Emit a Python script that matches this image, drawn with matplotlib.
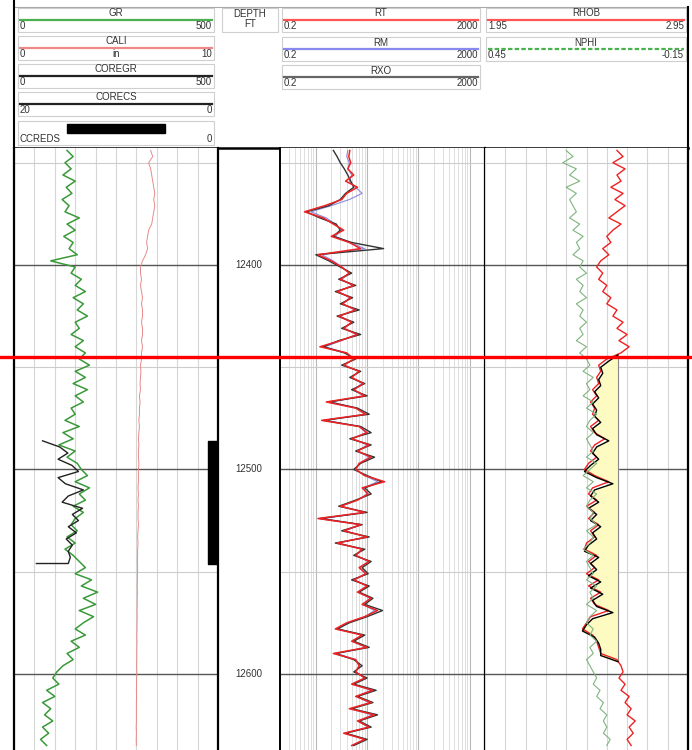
import numpy as np
import matplotlib.pyplot as plt
import matplotlib.transforms as mtransforms
from matplotlib.patches import Rectangle
from matplotlib.ticker import MultipleLocator, LogLocator

plt.rcParams['font.family'] = ['Liberation Sans', 'DejaVu Sans']

W, H = 692, 750

# log curves sampled every 3 ft from 12344 ft
top_depth = 12344
step = 3

gr = [130, 145, 125, 140, 120, 150, 128, 142, 118, 135,
      125, 160, 130, 150, 122, 145, 135, 155, 90,
      150, 140, 165, 150, 175, 145, 170, 155, 180, 150, 160, 140, 170, 150, 175,
      160, 185, 150, 175, 145, 180, 150, 170, 140,
      150, 125, 160, 120, 145, 110, 150, 130, 155,
      165, 180, 150, 185, 160, 175, 145, 170, 150,
      140, 155, 130, 150, 125, 145, 160, 175,
      150, 190, 165, 205, 170, 200, 160, 195,
      170, 150, 175, 140, 160, 130, 145, 120,
      105, 95, 110, 80, 100, 70, 90, 75, 95, 70, 85, 65, 80]

cali = [6.7, 6.8, 6.6, 6.7, 6.75, 6.8, 6.85, 6.9, 6.85, 6.9,
        6.85, 6.8, 6.75, 6.6, 6.55, 6.5, 6.55, 6.45, 6.3,
        6.2, 6.2, 6.25, 6.2, 6.25, 6.3, 6.25, 6.3, 6.3, 6.25, 6.3, 6.3, 6.25, 6.3, 6.25,
        6.25, 6.2, 6.22, 6.2, 6.18, 6.2, 6.15, 6.18, 6.15, 6.15,
        6.12, 6.15, 6.12, 6.1, 6.12, 6.1, 6.1, 6.12, 6.1, 6.1,
        6.1, 6.08, 6.1, 6.08, 6.1, 6.08, 6.08, 6.1, 6.08, 6.06,
        6.08, 6.06, 6.06, 6.05, 6.06, 6.05, 6.05, 6.04, 6.05, 6.04,
        6.04, 6.03, 6.04, 6.03, 6.03, 6.02, 6.03, 6.02, 6.02, 6.02,
        6.01, 6.02, 6.01, 6.01, 6.0, 6.01, 6.0, 6.0, 6.0, 6.0,
        5.99, 6.0, 5.99, 6.0]

rt = [4.6, 4.4, 4.8, 4.2, 5.5, 3.8, 6.5, 4.0, 3.2, 1.5,
      0.6, 1.4, 2.2, 3.5, 2.0, 4.5, 7.5, 1.1, 2.0, 3.2,
      4.5, 3.0, 5.5, 2.6, 4.8, 3.3, 6.0, 2.8, 5.0, 3.5,
      6.5, 3.0, 1.2, 4.0, 5.5, 3.5, 7.0, 5.0, 8.5, 5.5,
      9.0, 1.6, 6.0, 9.5, 1.3, 7.0, 10.0, 5.0, 11.0, 6.5,
      12.0, 7.0, 6.0, 9.0, 22.0, 8.0, 10.5, 6.5, 3.0, 9.0,
      1.1, 7.5, 3.5, 10.0, 2.6, 8.0, 6.0, 11.0, 7.0, 9.5,
      5.5, 10.0, 6.5, 12.0, 8.0, 16.0, 9.0, 4.0, 2.4, 8.0,
      5.0, 10.0, 2.2, 6.0, 7.0, 6.0, 9.0, 5.0, 13.0, 6.0,
      12.0, 4.5, 14.0, 6.5, 11.0, 3.5, 9.0, 5.0]

rm = [4.2, 4.0, 4.5, 4.3, 5.0, 4.5, 6.0, 8.0, 4.5, 2.0,
      0.8, 1.6, 2.4, 3.2, 2.4, 4.6, 9.0, 1.3, 2.2, 3.2,
      4.6, 3.2, 5.2, 2.8, 4.6, 3.4, 5.8, 3.0, 5.0, 3.6,
      6.2, 3.2, 1.5, 4.0, 5.6, 3.6, 6.8, 5.0, 8.0, 5.4,
      8.5, 2.0, 6.0, 9.0, 1.6, 7.0, 9.5, 5.2, 10.0, 6.5,
      11.0, 7.2, 6.0, 9.0, 16.0, 8.5, 10.0, 6.5, 3.2, 9.0,
      1.4, 7.5, 3.8, 9.5, 2.8, 8.0, 6.0, 10.5, 7.2, 9.5,
      5.8, 10.0, 6.8, 11.5, 8.2, 14.0, 9.0, 4.2, 2.8, 8.0,
      5.2, 9.5, 2.6, 6.0, 7.2, 6.0, 9.0, 5.2, 12.0, 6.2,
      11.0, 4.8, 12.5, 6.8, 10.5, 3.8, 9.0, 5.2]

rxo = [2.2, 2.6, 3.0, 3.6, 4.2, 4.8, 5.5, 3.8, 3.0, 1.8,
       0.65, 1.2, 2.5, 3.0, 2.2, 5.0, 21.0, 1.0, 1.8, 3.0,
       5.0, 2.8, 6.0, 2.4, 5.2, 3.0, 7.0, 2.6, 5.5, 3.2,
       7.5, 2.8, 1.4, 3.6, 6.0, 3.2, 7.5, 4.6, 9.0, 5.0,
       10.0, 1.8, 6.5, 11.0, 1.4, 7.5, 12.0, 4.6, 12.0, 6.0,
       14.0, 7.5, 5.5, 10.0, 19.0, 9.0, 12.0, 6.0, 2.8, 10.0,
       1.2, 8.0, 3.2, 11.0, 2.4, 9.0, 5.5, 12.0, 8.0, 10.5,
       5.0, 11.0, 7.0, 13.0, 9.0, 20.0, 10.0, 4.5, 2.6, 9.0,
       5.5, 11.0, 2.4, 5.5, 8.0, 5.5, 10.0, 5.5, 15.0, 6.5,
       13.0, 5.0, 16.0, 7.0, 12.0, 3.8, 10.0, 5.5]

rhob = [2.60, 2.63, 2.58, 2.64, 2.60, 2.62, 2.57, 2.63, 2.59, 2.64,
        2.60, 2.56, 2.62, 2.58, 2.55, 2.57, 2.53, 2.56, 2.52,
        2.50, 2.53, 2.51, 2.55, 2.53, 2.57, 2.55,
        2.60, 2.58, 2.63, 2.60, 2.65, 2.61, 2.66, 2.62,
        2.55, 2.51, 2.52, 2.50, 2.51, 2.48, 2.50, 2.47, 2.49, 2.48,
        2.51, 2.47, 2.49, 2.54, 2.49, 2.47, 2.50, 2.46, 2.44, 2.49,
        2.56, 2.48, 2.46, 2.50, 2.45, 2.49, 2.46, 2.51, 2.47, 2.49,
        2.45, 2.44, 2.50, 2.46,
        2.49, 2.45, 2.51, 2.46, 2.52, 2.47, 2.49, 2.56, 2.47, 2.45,
        2.43, 2.48, 2.50, 2.51, 2.52, 2.60, 2.62,
        2.63, 2.61, 2.64, 2.62, 2.66, 2.64, 2.67, 2.65, 2.69, 2.66, 2.68, 2.65, 2.67]

nphi = [0.21, 0.19, 0.22, 0.18, 0.20, 0.17, 0.21, 0.18, 0.20, 0.19,
        0.18, 0.20, 0.17, 0.19, 0.16, 0.18, 0.17, 0.19, 0.16,
        0.17, 0.15, 0.18, 0.16, 0.17, 0.15, 0.18, 0.16, 0.17, 0.15, 0.17, 0.16, 0.18, 0.15, 0.17,
        0.15, 0.14, 0.16, 0.13, 0.15, 0.14, 0.16, 0.13, 0.15, 0.12,
        0.14, 0.15, 0.13, 0.15, 0.14, 0.13, 0.15, 0.12, 0.14, 0.16,
        0.13, 0.15, 0.12, 0.14, 0.15, 0.13, 0.14, 0.12, 0.15, 0.13,
        0.14, 0.16, 0.13, 0.15,
        0.14, 0.13, 0.15, 0.12, 0.14, 0.13, 0.15, 0.12, 0.14, 0.15,
        0.13, 0.14, 0.12, 0.14, 0.13, 0.15, 0.14,
        0.13, 0.12, 0.13, 0.11, 0.12, 0.10, 0.11, 0.09, 0.10, 0.09, 0.10, 0.08, 0.09]

# core gamma ray, every 3 ft from 12486 ft, last value is the tail at the base
core_gr_top = 12486
core_gr = [70, 112, 132, 108, 142, 158, 108, 126, 170, 133, 118,
           168, 143, 158, 133, 153, 128, 143, 133, 138, 133, 55]

# core density, every 3 ft from 12444 ft
core_rhob_top = 12444
core_rhob = [2.605, 2.56, 2.52, 2.53, 2.51, 2.52, 2.49, 2.51, 2.48, 2.50, 2.49,
             2.52, 2.48, 2.50, 2.56, 2.50, 2.48, 2.51, 2.47, 2.44, 2.50,
             2.58, 2.49, 2.47, 2.51, 2.46, 2.50, 2.47, 2.52, 2.48, 2.50,
             2.46, 2.44, 2.51, 2.47, 2.50, 2.46, 2.52, 2.47, 2.53, 2.48,
             2.50, 2.58, 2.48, 2.45, 2.43, 2.49, 2.51, 2.52, 2.52, 2.605]
fill_limit = 2.605

core_top, core_base = 12486, 12546   # CCREDS interval
marker_depth = 12445
depth_ticks = [12400, 12500, 12600]
depth_top, depth_bottom = 12342.8, 12637.2

depth = top_depth + step * np.arange(len(gr))
core_gr_depth = core_gr_top + step * np.arange(len(core_gr) - 1)
core_gr_depth = np.append(core_gr_depth, core_gr_depth[-1])
core_rhob_depth = core_rhob_top + step * np.arange(len(core_rhob))


def px(x0, y0, x1, y1):
    return [x0 / W, 1 - y1 / H, (x1 - x0) / W, (y1 - y0) / H]


fig = plt.figure(figsize=(W / 100, H / 100), dpi=100)
fig.patch.set_facecolor('white')

# ---------- header ----------
hax = fig.add_axes([0, 0, 1, 1], zorder=0)
hax.set_xlim(0, W)
hax.set_ylim(H, 0)
hax.axis('off')
txt = dict(fontsize=7, color='#333333', va='center')


def header_box(x0, y0, x1, title, left, right, color, mid='', ls='-', h=24):
    hax.add_patch(Rectangle((x0, y0), x1 - x0, h, fill=False, ec='#cfcfcf', lw=0.8))
    hax.text((x0 + x1) / 2, y0 + 5.5, title, ha='center', **txt)
    hax.plot([x0 + 2, x1 - 2], [y0 + 11.5, y0 + 11.5], color=color, lw=1.6, ls=ls)
    hax.text(x0 + 2, y0 + 18, left, ha='left', **txt)
    hax.text(x1 - 2, y0 + 18, right, ha='right', **txt)
    if mid:
        hax.text((x0 + x1) / 2, y0 + 18, mid, ha='center', **txt)


header_box(18, 8, 214, 'GR', '0', '500', '#4caf50')
header_box(18, 36, 214, 'CALI', '0', '10', '#ee8888', mid='in')
header_box(18, 64, 214, 'COREGR', '0', '500', '#222222')
header_box(18, 92, 214, 'CORECS', '20', '0', '#222222')
hax.add_patch(Rectangle((18, 121), 196, 24, fill=False, ec='#cfcfcf', lw=0.8))
hax.add_patch(Rectangle((67, 124), 98, 9, color='black'))
hax.text(20, 139, 'CCREDS', ha='left', **txt)
hax.text(212, 139, '0', ha='right', **txt)

hax.add_patch(Rectangle((222, 8), 56, 24, fill=False, ec='#cfcfcf', lw=0.8))
hax.text(250, 14, 'DEPTH', ha='center', **txt)
hax.text(250, 24, 'FT', ha='center', **txt)

header_box(282, 8, 480, 'RT', '0.2', '2000', '#ff5555')
header_box(282, 37, 480, 'RM', '0.2', '2000', '#8888ee')
header_box(282, 65, 480, 'RXO', '0.2', '2000', '#666666')
header_box(486, 8, 686, 'RHOB', '1.95', '2.95', '#ff5555')
header_box(486, 37, 686, 'NPHI', '0.45', '-0.15', '#4caf50', ls=(0, (2, 1)))

hax.plot([14, 688], [7, 7], color='#aaaaaa', lw=0.8)
hax.plot([14, 14], [0, 148], color='black', lw=1.5)
hax.plot([688, 688], [7, 148], color='black', lw=1.5)
hax.plot([14, 688], [148, 148], color='black', lw=1.8)

# ---------- tracks ----------
def setup(ax):
    ax.set_ylim(depth_bottom, depth_top)
    ax.tick_params(which='both', length=0, labelbottom=False, labelleft=False,
                   labeltop=False, labelright=False)
    for s in ax.spines.values():
        s.set_visible(False)
    ax.yaxis.set_major_locator(MultipleLocator(100))
    ax.yaxis.set_minor_locator(MultipleLocator(50))


def grid_y(ax):
    ax.grid(which='major', axis='y', color='#555555', lw=1.0)
    ax.grid(which='minor', axis='y', color='#cccccc', lw=0.8)
    ax.set_axisbelow(True)


def twin(ax, lim):
    t = ax.twiny()
    t.set_xlim(*lim)
    t.set_ylim(depth_bottom, depth_top)
    t.tick_params(which='both', length=0, labeltop=False, labelbottom=False)
    for s in t.spines.values():
        s.set_visible(False)
    return t


ax1 = fig.add_axes(px(14, 148, 218, 750))
setup(ax1)
ax1.set_xlim(0, 500)
ax1.set_xticks(np.arange(0, 501, 50))
ax1.grid(axis='x', color='#d6d6d6', lw=0.8)
grid_y(ax1)
ax1.plot(gr, depth, color='#3a9a3a', lw=1.1)
ax1.plot(core_gr, core_gr_depth, color='#222222', lw=1.0)
blend1 = mtransforms.blended_transform_factory(ax1.transAxes, ax1.transData)
ax1.fill_betweenx([core_top, core_base], 0.95, 1.0, color='black', transform=blend1)
ax1c = twin(ax1, (0, 10))
ax1c.plot(cali, depth, color='#e88a8a', lw=0.7)

axd = fig.add_axes(px(218, 148, 280, 750))
setup(axd)
axd.patch.set_alpha(0)
blendd = mtransforms.blended_transform_factory(axd.transAxes, axd.transData)
for d in depth_ticks:
    axd.text(0.5, d, str(d), transform=blendd, ha='center', va='center',
             fontsize=7, color='#333333')

ax2 = fig.add_axes(px(280, 148, 485, 750))
setup(ax2)
ax2.set_xscale('log')
ax2.set_xlim(0.2, 2000)
ax2.xaxis.set_major_locator(LogLocator(base=10))
ax2.xaxis.set_minor_locator(LogLocator(base=10, subs=np.arange(2, 10)))
ax2.tick_params(which='both', length=0, labelbottom=False)
ax2.grid(which='major', axis='x', color='#b8b8b8', lw=0.8)
ax2.grid(which='minor', axis='x', color='#dedede', lw=0.7)
grid_y(ax2)
ax2.plot(rm, depth, color='#8a8ae0', lw=0.8)
ax2.plot(rxo, depth, color='#333333', lw=1.0)
ax2.plot(rt, depth, color='#ee2222', lw=1.1)

ax3 = fig.add_axes(px(485, 148, 688, 750))
setup(ax3)
ax3.set_xlim(1.95, 2.95)
ax3.set_xticks(np.linspace(1.95, 2.95, 11))
ax3.grid(axis='x', color='#d6d6d6', lw=0.8)
grid_y(ax3)
ax3.fill_betweenx(core_rhob_depth, core_rhob, fill_limit, color='#fdfbc2', zorder=2)
ax3.vlines(fill_limit, core_rhob_depth[0], core_rhob_depth[-1], color='#888888', lw=0.8, zorder=3)
ax3.plot(rhob, depth, color='#ee2222', lw=1.0, zorder=3)
ax3.plot(core_rhob, core_rhob_depth, color='black', lw=1.0, zorder=4)
ax3n = twin(ax3, (0.45, -0.15))
ax3n.plot(nphi, depth, color='#7fb47f', lw=0.8)

# track borders
for ax, side, lw in [(ax1, 'left', 1.6), (ax1, 'right', 1.6), (ax2, 'left', 1.4),
                     (ax2, 'right', 1.6), (ax3, 'right', 1.6)]:
    ax.spines[side].set_visible(True)
    ax.spines[side].set_linewidth(lw)
    ax.spines[side].set_color('black')
    ax.spines[side].set_zorder(5)

# marker line across the whole width
ov = fig.add_axes(px(0, 148, W, 750), zorder=10)
ov.set_ylim(depth_bottom, depth_top)
ov.axis('off')
ov.patch.set_alpha(0)
ov.axhline(marker_depth, color='#ff0000', lw=2.4)

fig.savefig('out.png', dpi=100)
